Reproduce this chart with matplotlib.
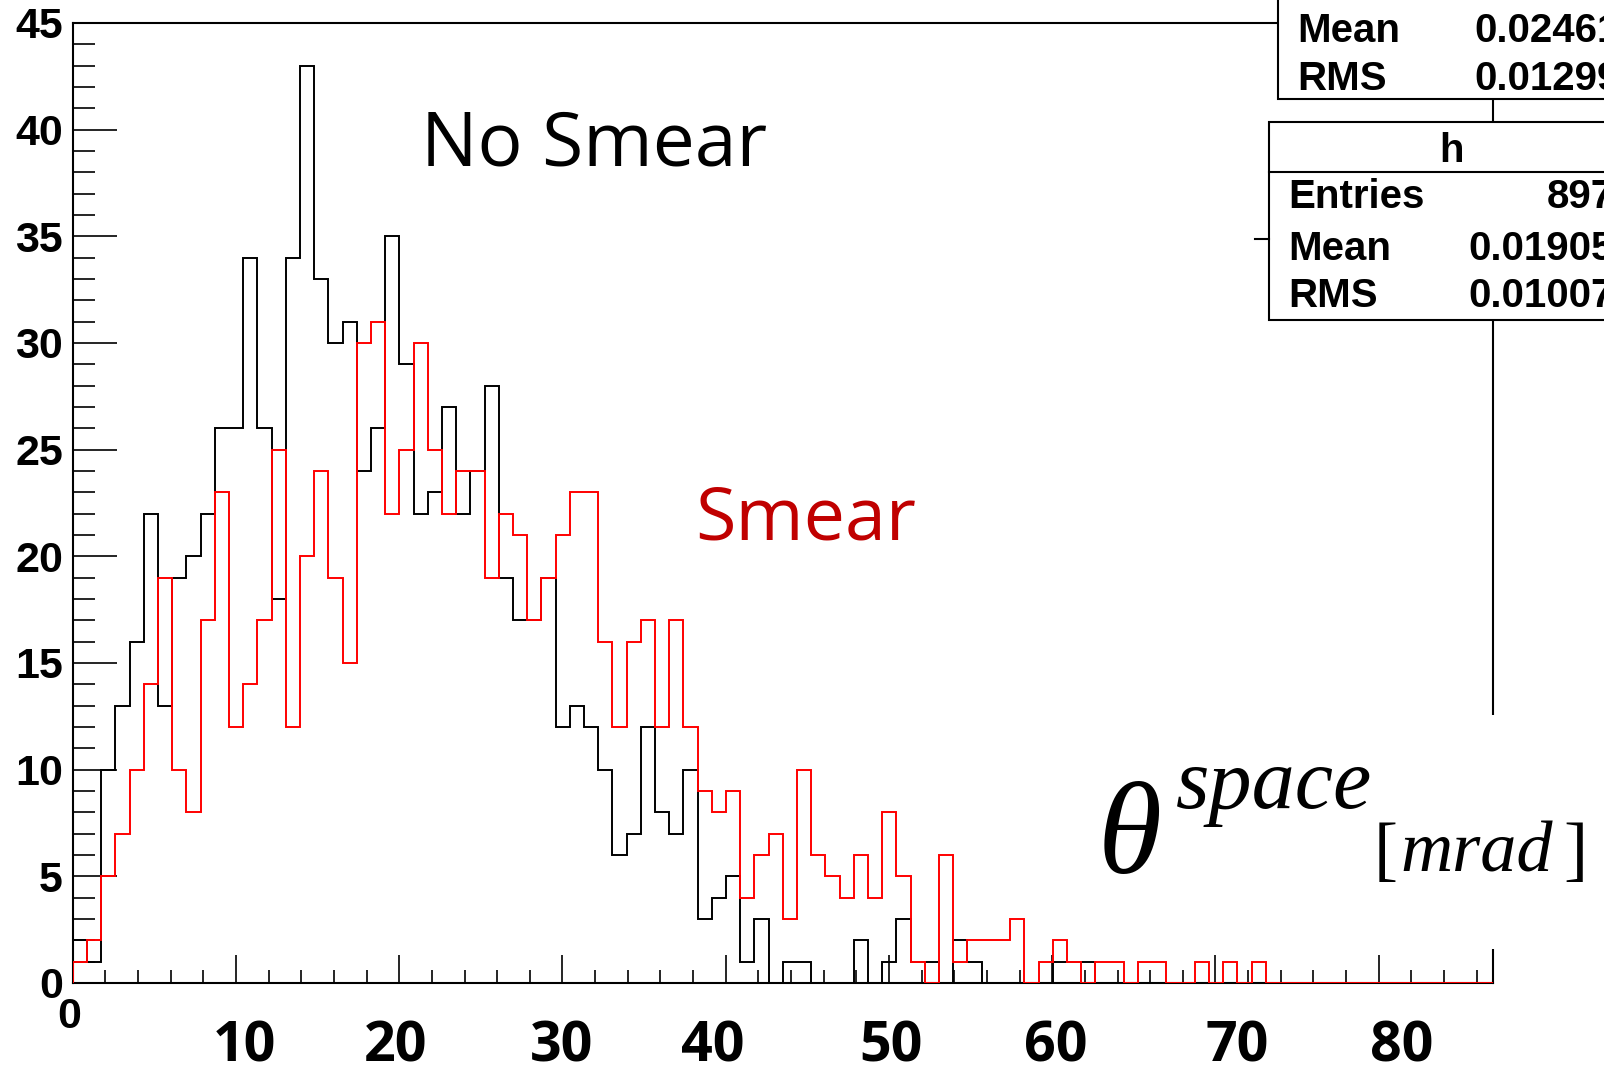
import numpy as np
import matplotlib
matplotlib.use('Agg')
from matplotlib import pyplot as plt
from matplotlib import transforms
from matplotlib.ticker import MultipleLocator
from matplotlib.patches import Rectangle
from matplotlib.lines import Line2D

# theta_space histograms, 100 bins from 0 to 87 mrad
x_min, x_max, n_bins = 0.0, 87.0, 100

no_smear = [2, 1, 10, 13, 16, 22, 13, 19, 20, 22,
            26, 26, 34, 26, 18, 34, 43, 33, 30, 31,
            24, 26, 35, 29, 22, 23, 27, 22, 24, 28,
            19, 17, 17, 19, 12, 13, 12, 10, 6, 7,
            12, 8, 7, 10, 3, 4, 5, 1, 3, 0,
            1, 1, 0, 0, 0, 2, 0, 1, 3, 1,
            1, 0, 2, 1, 0, 0, 0, 0, 0, 1,
            1, 1, 0, 0, 0, 0, 0, 0, 0, 0,
            0, 0, 0, 0, 0, 0, 0, 0, 0, 0,
            0, 0, 0, 0, 0, 0, 0, 0, 0, 0]

smear = [1, 2, 5, 7, 10, 14, 19, 10, 8, 17,
         23, 12, 14, 17, 25, 12, 20, 24, 19, 15,
         30, 31, 22, 25, 30, 25, 22, 24, 24, 19,
         22, 21, 17, 19, 21, 23, 23, 16, 12, 16,
         17, 12, 17, 12, 9, 8, 9, 4, 6, 7,
         3, 10, 6, 5, 4, 6, 4, 8, 5, 1,
         0, 6, 1, 2, 2, 2, 3, 0, 1, 2,
         1, 0, 1, 1, 0, 1, 1, 0, 0, 1,
         0, 1, 0, 1, 0, 0, 0, 0, 0, 0,
         0, 0, 0, 0, 0, 0, 0, 0, 0, 0]

y_ticks = [0, 5, 10, 15, 20, 25, 30, 35, 40, 45]
x_tick_labels = ['10', '20', '30', '40', '50', '60', '70', '80']
x_label_pos = [10.55, 19.8, 29.93, 39.21, 50.1, 60.22, 71.3, 81.38]

stats_top = [('Mean', '0.02461'), ('RMS', '0.01299')]
stats_h = [('Entries', '897'), ('Mean', '0.01905'), ('RMS', '0.01007')]

W, H = 1604, 1065


def fx(x):
    return x / W


def fy(y):
    return 1 - y / H


fig = plt.figure(figsize=(W / 100, H / 100), dpi=100)
fig.patch.set_facecolor('white')
ax = fig.add_axes([fx(72.7), fy(983), fx(1493) - fx(72.7), fy(23) - fy(983)])

edges = np.linspace(x_min, x_max, n_bins + 1)
ax.stairs(no_smear, edges, color='black', lw=1.4, zorder=2)
ax.stairs(smear, edges, color='#ff0000', lw=1.4, zorder=3)

ax.set_xlim(x_min, x_max)
ax.set_ylim(0, 45)
for s in ax.spines.values():
    s.set_linewidth(1.5)

ax.set_xticks(range(0, 81, 10))
ax.xaxis.set_minor_locator(MultipleLocator(2))
ax.set_yticks(y_ticks)
ax.yaxis.set_minor_locator(MultipleLocator(1))
ax.tick_params(axis='x', which='major', direction='in', length=20, width=1.2, labelbottom=False)
ax.tick_params(axis='x', which='minor', direction='in', length=9.5, width=1.2)
ax.tick_params(axis='y', which='major', direction='in', length=32, width=1.2, pad=7)
ax.tick_params(axis='y', which='minor', direction='in', length=16, width=1.2)
ax.set_yticklabels([str(v) for v in y_ticks], fontfamily='Liberation Sans',
                   fontweight='bold', fontsize=31)

# x axis labels: small origin label plus big numbers in mrad
ax.text(-0.2, -0.015, '0', transform=ax.get_xaxis_transform(), ha='center', va='top',
        fontfamily='Liberation Sans', fontweight='bold', fontsize=31)
lab_trans = transforms.blended_transform_factory(ax.transData, fig.transFigure)
for lab, xp in zip(x_tick_labels, x_label_pos):
    ax.text(xp, fy(1062), lab, transform=lab_trans, ha='center', va='baseline',
            fontfamily='Open Sans', fontweight='bold', fontsize=40)

fig.text(fx(421), fy(166), 'No Smear', ha='left', va='baseline',
         fontfamily='Open Sans', fontsize=54, color='black')
fig.text(fx(695), fy(539), 'Smear', ha='left', va='baseline',
         fontfamily='Open Sans', fontsize=53, color='#c00000')

# axis title in the lower right
fig.add_artist(Rectangle((fx(1090), fy(949)), fx(1604) - fx(1090), fy(715) - fy(949),
                         transform=fig.transFigure, fc='white', ec='none', zorder=2))
fig.text(fx(1098), fy(873), '\u03b8', ha='left', va='baseline',
         fontfamily='Liberation Serif', style='italic', fontsize=94, zorder=4)
fig.text(fx(1176), fy(808), 'space', ha='left', va='baseline',
         fontfamily='Liberation Serif', style='italic', fontsize=62, zorder=4)
fig.text(fx(1374), fy(872), '[', ha='left', va='baseline',
         fontfamily='Liberation Serif', fontsize=52, zorder=4)
fig.text(fx(1400), fy(872), 'mrad', ha='left', va='baseline',
         fontfamily='Liberation Serif', style='italic', fontsize=52, zorder=4)
fig.text(fx(1588), fy(872), ']', ha='right', va='baseline',
         fontfamily='Liberation Serif', fontsize=52, zorder=4)

# stat boxes
fig.add_artist(Rectangle((fx(1278), fy(99)), 0.3, 0.2, transform=fig.transFigure,
                         fc='white', ec='black', lw=1.5, zorder=3))
for (name, val), yb in zip(stats_top, [42, 90]):
    fig.text(fx(1297), fy(yb), name, ha='left', va='baseline', fontfamily='Liberation Sans',
             fontweight='bold', fontsize=29, zorder=4)
    fig.text(fx(1620), fy(yb), val, ha='right', va='baseline', fontfamily='Liberation Sans',
             fontweight='bold', fontsize=29, zorder=4)

fig.add_artist(Rectangle((fx(1269), fy(320)), 0.3, fy(121.7) - fy(320),
                         transform=fig.transFigure, fc='white', ec='black', lw=1.5, zorder=3))
fig.add_artist(Line2D([fx(1269), 1.1], [fy(171.7), fy(171.7)], transform=fig.transFigure,
                      color='black', lw=1.5, zorder=4))
fig.add_artist(Line2D([fx(1255), fx(1269)], [fy(239), fy(239)], transform=fig.transFigure,
                      color='black', lw=1.5, zorder=4))
fig.text(fx(1452), fy(162), 'h', ha='center', va='baseline', fontfamily='Liberation Sans',
         fontweight='bold', fontsize=29, zorder=4)
for (name, val), yb in zip(stats_h, [208, 260, 307]):
    fig.text(fx(1288), fy(yb), name, ha='left', va='baseline', fontfamily='Liberation Sans',
             fontweight='bold', fontsize=29, zorder=4)
    fig.text(fx(1614), fy(yb), val, ha='right', va='baseline', fontfamily='Liberation Sans',
             fontweight='bold', fontsize=29, zorder=4)

fig.savefig('out.png', dpi=100)
